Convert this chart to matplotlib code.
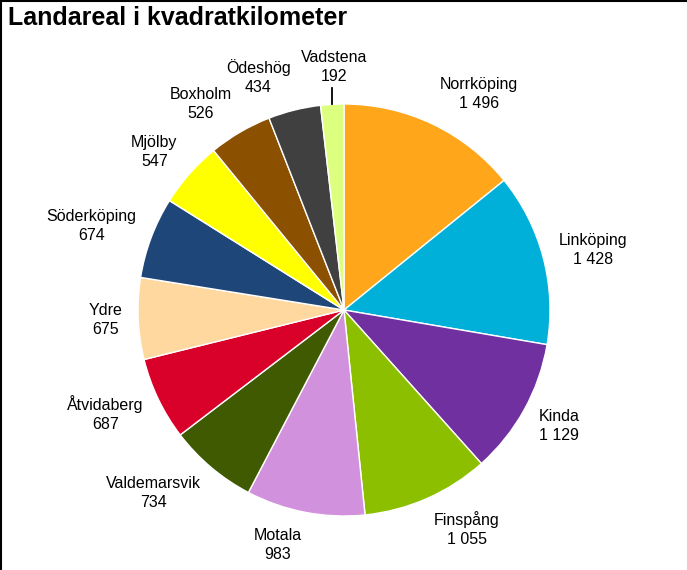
import numpy as np
import matplotlib
matplotlib.use("Agg")
from matplotlib import pyplot as plt
from matplotlib.lines import Line2D

kommuner = ["Norrköping", "Linköping", "Kinda", "Finspång", "Motala", "Valdemarsvik",
            "Åtvidaberg", "Ydre", "Söderköping", "Mjölby", "Boxholm", "Ödeshög", "Vadstena"]
areal = [1496, 1428, 1129, 1055, 983, 734, 687, 675, 674, 547, 526, 434, 192]
farger = ["#FFA61A", "#00B0D8", "#7030A0", "#8CBF00", "#D291DC", "#3F5A00", "#D9002A",
          "#FFD8A0", "#1F4678", "#FFFF00", "#8B5000", "#404040", "#DDFF80"]

plt.rcParams["font.family"] = ["Liberation Sans", "DejaVu Sans"]

fig = plt.figure(figsize=(6.87, 5.7), dpi=100)
ax = fig.add_axes([0, 0, 1, 1])

wedges, _ = ax.pie(areal, colors=farger, startangle=90, counterclock=False,
                   radius=1.0, wedgeprops=dict(edgecolor="white", linewidth=1.0))

R = 206.0  # pixels per unit radius
cx, cy = 344.0, 310.0
ax.set_xlim(-cx / R, (687 - cx) / R)
ax.set_ylim(-(570 - cy) / R, cy / R)
ax.set_aspect("equal")
ax.axis("off")

# labels pushed outward so the box sits just outside the pie
r0 = 222.0
renderer = fig.canvas.get_renderer()
for w, namn, v in zip(wedges, kommuner, areal):
    ang = np.deg2rad((w.theta1 + w.theta2) / 2)
    ux, uy = np.cos(ang), np.sin(ang)
    txt = f"{namn}\n{v:,}".replace(",", " ")
    t = ax.text(0, 0, txt, ha="center", va="center", fontsize=11.5, linespacing=1.33)
    bb = t.get_window_extent(renderer)
    bw, bh = bb.width, bb.height
    if abs(ux) < 0.1:
        # small slice at the top: label straight above with a leader line
        px, py = ux * r0 + 3, 243.0
        ax.plot([ux, ux], [1.0, 1.08], color="black", lw=1.3)
    else:
        px = ux * r0 + np.sign(ux) * bw / 2
        py = uy * r0 + uy * bh / 2
    t.set_position((px / R, py / R))

fig.text(0.012, 0.968, "Landareal i kvadratkilometer", fontsize=18, fontweight="bold",
         ha="left", va="center")

fig.add_artist(Line2D([0, 1], [0.999, 0.999], color="black", lw=1.5, transform=fig.transFigure))
fig.add_artist(Line2D([0.001, 0.001], [0, 1], color="black", lw=1.5, transform=fig.transFigure))

plt.savefig("out.png", dpi=100)
